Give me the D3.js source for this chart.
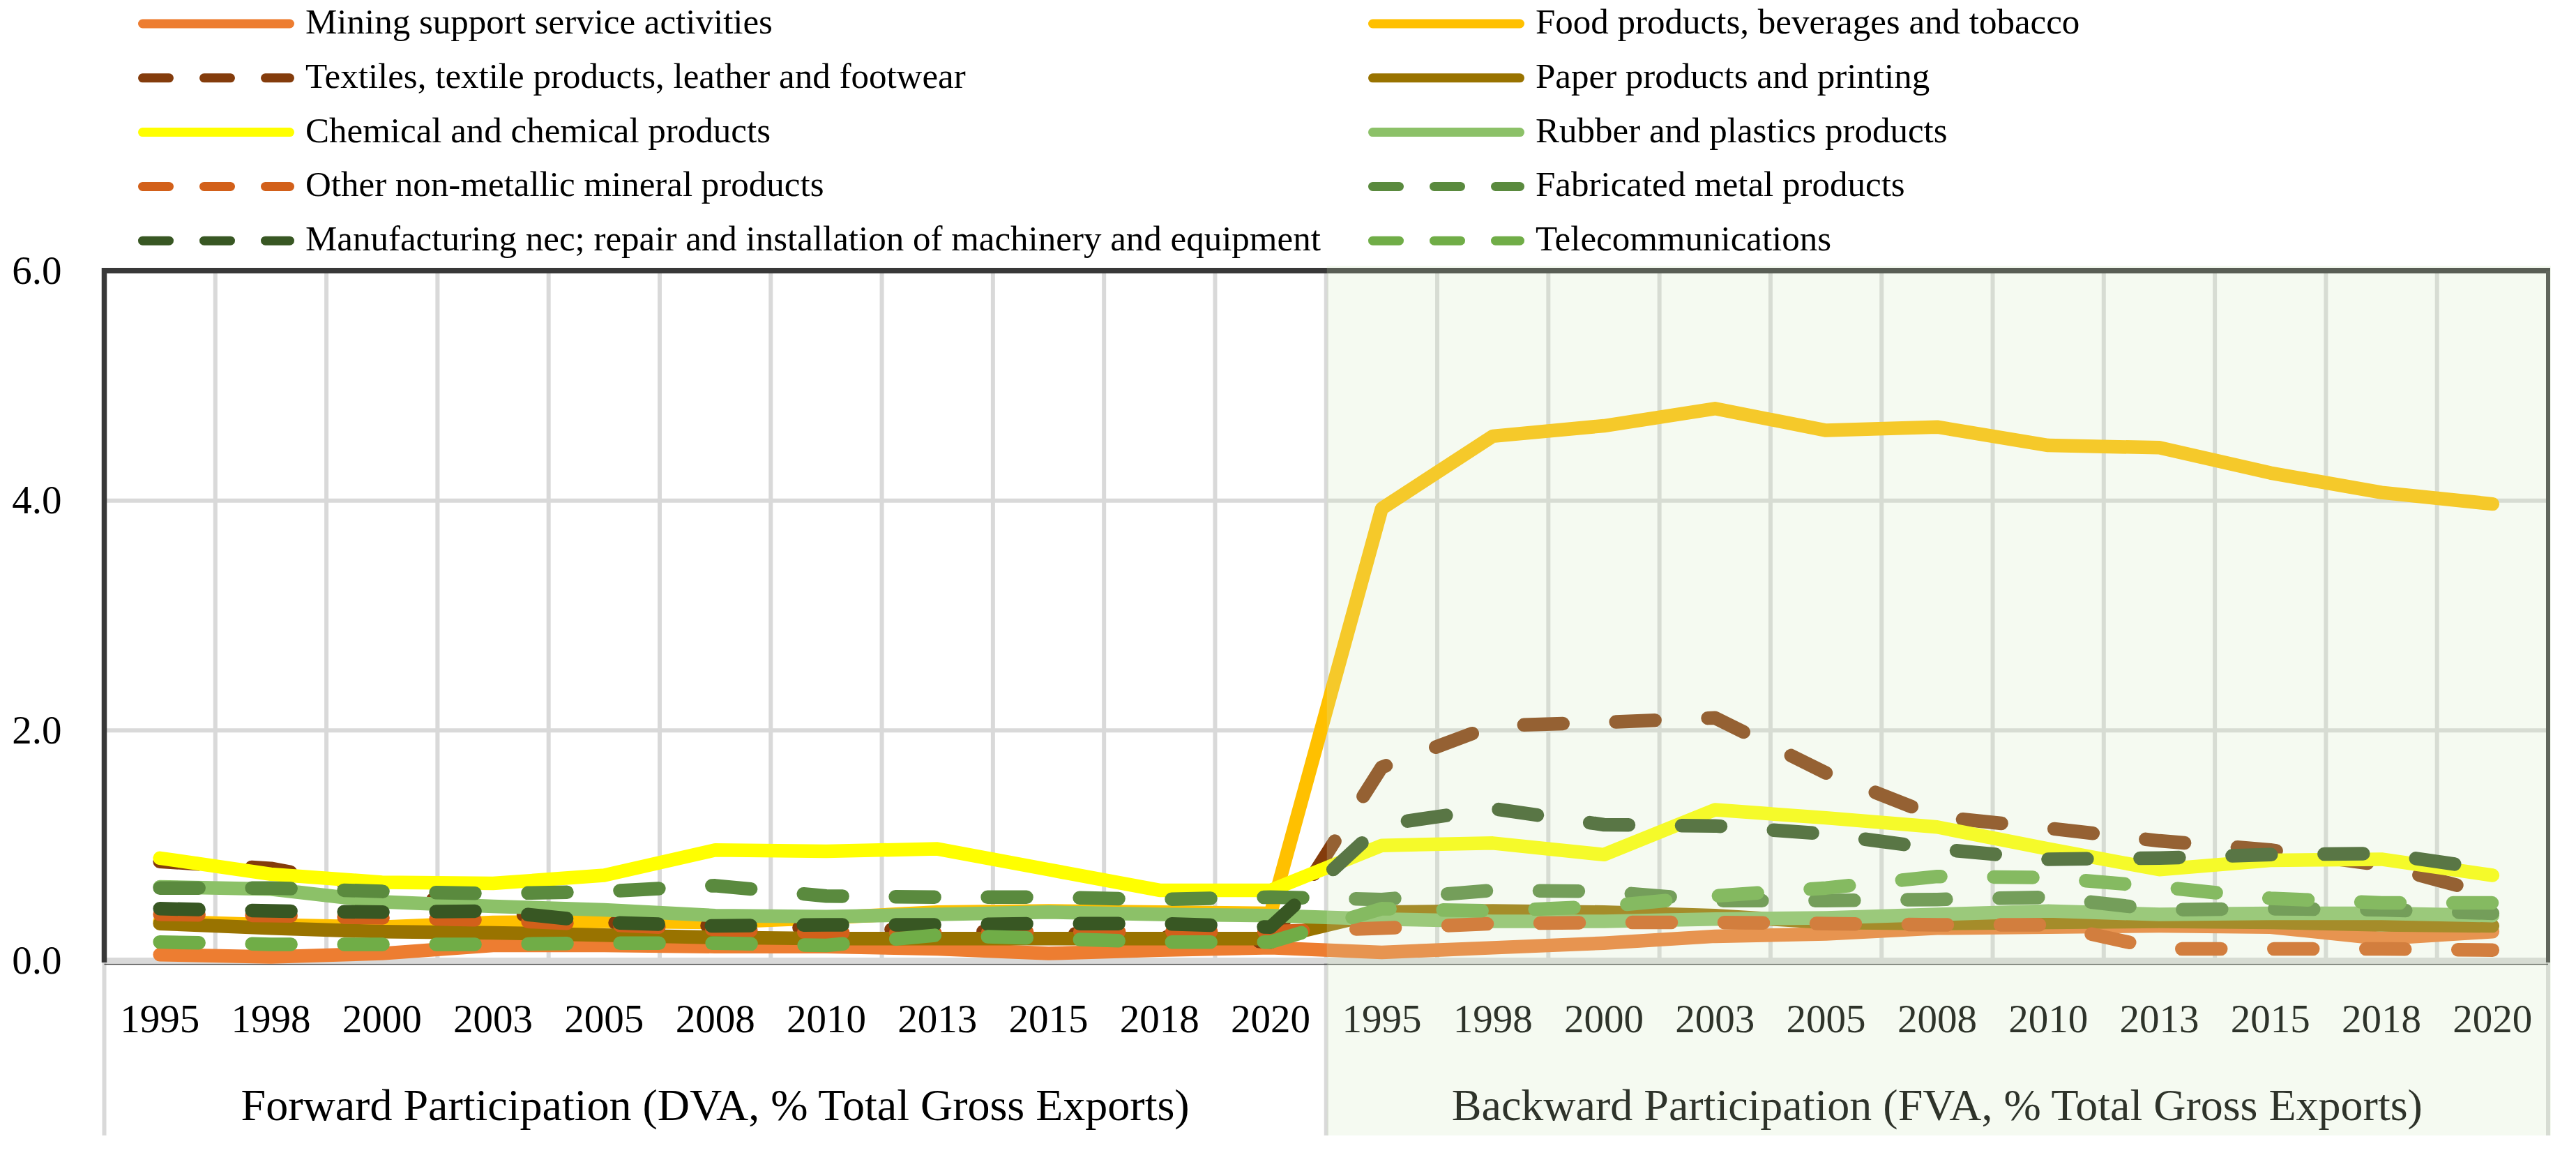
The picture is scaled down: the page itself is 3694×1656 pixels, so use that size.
<!DOCTYPE html>
<html>
<head>
<meta charset="utf-8">
<script src="https://cdn.jsdelivr.net/npm/d3@7"></script>
<style>
    html, body { margin: 0; padding: 0; background: #ffffff; }
    svg { display: block; font-family: "Liberation Serif", "DejaVu Serif", serif; }
</style>
</head>
<body>
<svg id="chart" width="3694" height="1656"></svg>
<script>
// ---- data ----
const years = ["1995", "1998", "2000", "2003", "2005", "2008", "2010", "2013", "2015", "2018", "2020"];
const groups = ["Forward Participation (DVA, % Total Gross Exports)",
                "Backward Participation (FVA, % Total Gross Exports)"];
const yTicks = [0, 2, 4, 6];

const seriesNames = [
    "Mining support service activities",
    "Food products, beverages and tobacco",
    "Textiles, textile products, leather and footwear",
    "Paper products and printing",
    "Chemical and chemical products",
    "Rubber and plastics products",
    "Other non-metallic mineral products",
    "Fabricated metal products",
    "Manufacturing nec; repair and installation of machinery and equipment",
    "Telecommunications"
];

// 11 forward values followed by 11 backward values
const mining        = [0.05, 0.03, 0.06, 0.13, 0.13, 0.12, 0.12, 0.10, 0.06, 0.09, 0.11,
                       0.07, 0.11, 0.15, 0.21, 0.23, 0.28, 0.29, 0.30, 0.29, 0.19, 0.25];
const food          = [0.34, 0.31, 0.29, 0.33, 0.34, 0.33, 0.37, 0.42, 0.43, 0.42, 0.41,
                       3.93, 4.56, 4.65, 4.80, 4.61, 4.64, 4.48, 4.46, 4.24, 4.07, 3.97];
const textiles      = [0.86, 0.80, 0.62, 0.42, 0.33, 0.30, 0.28, 0.26, 0.24, 0.21, 0.16,
                       1.68, 2.04, 2.07, 2.11, 1.63, 1.25, 1.15, 1.04, 0.96, 0.83, 0.57];
const paper         = [0.32, 0.28, 0.25, 0.24, 0.22, 0.20, 0.19, 0.19, 0.19, 0.19, 0.19,
                       0.42, 0.43, 0.42, 0.39, 0.33, 0.32, 0.33, 0.34, 0.33, 0.31, 0.30];
const chemical      = [0.89, 0.75, 0.68, 0.67, 0.74, 0.96, 0.95, 0.97, 0.79, 0.61, 0.61,
                       1.00, 1.02, 0.92, 1.31, 1.24, 1.16, 0.97, 0.79, 0.87, 0.88, 0.74];
const rubber        = [0.64, 0.62, 0.51, 0.47, 0.44, 0.39, 0.38, 0.40, 0.42, 0.40, 0.39,
                       0.36, 0.34, 0.34, 0.36, 0.37, 0.40, 0.43, 0.40, 0.41, 0.41, 0.39];
const otherNonMetal = [0.40, 0.39, 0.37, 0.35, 0.31, 0.27, 0.24, 0.24, 0.25, 0.25, 0.25,
                       0.28, 0.32, 0.33, 0.33, 0.32, 0.31, 0.31, 0.10, 0.10, 0.10, 0.09];
const fabricated    = [0.63, 0.63, 0.60, 0.58, 0.60, 0.65, 0.56, 0.55, 0.55, 0.53, 0.55,
                       0.53, 0.61, 0.60, 0.52, 0.52, 0.53, 0.55, 0.44, 0.45, 0.44, 0.41];
const manufacturing = [0.45, 0.43, 0.42, 0.43, 0.33, 0.30, 0.31, 0.31, 0.32, 0.32, 0.29,
                       1.18, 1.32, 1.18, 1.17, 1.10, 0.97, 0.88, 0.89, 0.92, 0.93, 0.79];
const telecom       = [0.16, 0.14, 0.14, 0.14, 0.15, 0.15, 0.13, 0.22, 0.19, 0.16, 0.16,
                       0.45, 0.43, 0.47, 0.56, 0.63, 0.73, 0.72, 0.64, 0.54, 0.50, 0.50];

const seriesValues = [mining, food, textiles, paper, chemical, rubber,
                      otherNonMetal, fabricated, manufacturing, telecom];

// ---- styles ----
const seriesColors = ["#ED7D31", "#FFC000", "#843C0C", "#997300", "#FFFF00",
                      "#8CC168", "#D2601A", "#5A8A3E", "#385723", "#70AD47"];
const seriesDashed = [false, false, true, false, false, false, true, true, true, true];

const plotLeft = 149.5, plotRight = 3654, plotTop = 388, plotBottom = 1377, labelBottom = 1628;
const gridColor = "#d9d9d9";
const borderColor = "#383838";

const svg = d3.select("#chart");

// categories: group|year
const categories = groups.flatMap(g => years.map(y => g + "|" + y));

const x = d3.scaleBand().domain(categories).range([plotLeft, plotRight]);
const xc = c => x(c) + x.bandwidth() / 2;
const xGroup = d3.scaleBand().domain(groups).range([plotLeft, plotRight]);
const y = d3.scaleLinear().domain([0, 6]).range([plotBottom, plotTop]);
const splitX = xGroup(groups[1]);

// ---- grid ----
const grid = svg.append("g").attr("class", "grid");

grid.selectAll("line.h")
    .data(yTicks.filter(t => t > 0 && t < 6))
    .enter().append("line")
    .attr("x1", plotLeft).attr("x2", plotRight)
    .attr("y1", d => y(d)).attr("y2", d => y(d))
    .style("stroke", gridColor).style("stroke-width", 6);

grid.selectAll("line.v")
    .data(categories.slice(1))
    .enter().append("line")
    .attr("x1", d => x(d)).attr("x2", d => x(d))
    .attr("y1", plotTop).attr("y2", plotBottom)
    .style("stroke", gridColor).style("stroke-width", 6);

// group separators in the label area
grid.selectAll("line.sep")
    .data([plotLeft, splitX, plotRight])
    .enter().append("line")
    .attr("x1", d => d).attr("x2", d => d)
    .attr("y1", plotBottom).attr("y2", labelBottom)
    .style("stroke", gridColor).style("stroke-width", 6);

// zero line
grid.append("line")
    .attr("x1", plotLeft).attr("x2", plotRight)
    .attr("y1", y(0)).attr("y2", y(0))
    .style("stroke", gridColor).style("stroke-width", 8);
grid.append("line")
    .attr("x1", plotLeft).attr("x2", plotRight)
    .attr("y1", y(0) + 5.5).attr("y2", y(0) + 5.5)
    .style("stroke", "#404040").style("stroke-width", 1.5);

// plot border (top, left, right)
grid.append("line")
    .attr("x1", plotLeft - 3.5).attr("x2", plotRight + 3)
    .attr("y1", y(6)).attr("y2", y(6))
    .style("stroke", borderColor).style("stroke-width", 8);
grid.append("line")
    .attr("x1", plotLeft).attr("x2", plotLeft)
    .attr("y1", y(6) - 4).attr("y2", y(0) + 3)
    .style("stroke", borderColor).style("stroke-width", 7.5);
grid.append("line")
    .attr("x1", plotRight).attr("x2", plotRight)
    .attr("y1", y(6)).attr("y2", y(0) + 3)
    .style("stroke", "#404040").style("stroke-width", 6);

// ---- series ----
const line = d3.line()
    .x((v, i) => xc(categories[i]))
    .y(v => y(v));

svg.append("g").attr("class", "series")
    .selectAll("path")
    .data(seriesValues)
    .enter().append("path")
    .attr("d", d => line(d))
    .style("fill", "none")
    .style("stroke", (d, i) => seriesColors[i])
    .style("stroke-width", 19.5)
    .style("stroke-linecap", "round")
    .style("stroke-linejoin", "round")
    .style("stroke-dasharray", (d, i) => seriesDashed[i] ? "56 76" : null);

// ---- axes ----
const yAxis = svg.append("g")
    .attr("transform", "translate(" + plotLeft + ",0)")
    .call(d3.axisLeft(y).tickValues(yTicks).tickFormat(d3.format(".1f")).tickSize(0).tickPadding(61));
yAxis.select(".domain").remove();
yAxis.selectAll("text")
    .style("font-family", "Liberation Serif").style("font-size", "57px").style("fill", "#000");

const xAxis = svg.append("g")
    .attr("transform", "translate(0," + plotBottom + ")")
    .call(d3.axisBottom(x).tickFormat(c => c.split("|")[1]).tickSize(0));
xAxis.select(".domain").remove();
xAxis.selectAll("text")
    .attr("dy", null).attr("y", 1480 - plotBottom)
    .style("font-family", "Liberation Serif").style("font-size", "57px").style("fill", "#000");

const gAxis = svg.append("g")
    .attr("transform", "translate(0," + plotBottom + ")")
    .call(d3.axisBottom(xGroup).tickSize(0));
gAxis.select(".domain").remove();
gAxis.selectAll("text")
    .attr("dy", null).attr("y", 1606 - plotBottom)
    .style("font-family", "Liberation Serif").style("font-size", "64px").style("fill", "#000");

// light green veil over the backward half
svg.append("rect")
    .attr("x", splitX + 1).attr("y", y(6) - 7)
    .attr("width", plotRight + 4 - splitX - 1)
    .attr("height", labelBottom - y(6) + 7)
    .style("fill", "rgb(210,232,191)")
    .style("opacity", 0.22);

// ---- legend ----
const legend = svg.append("g").attr("class", "legend");
const legendCols = [198, 1962];
const legendRow = 77.8;

seriesNames.forEach((name, i) => {
    let col = i % 2;
    let row = Math.floor(i / 2);
    let lx = legendCols[col];
    let ly = 34 + row * legendRow;
    legend.append("line")
        .attr("x1", lx + 6.5).attr("x2", lx + 217.5)
        .attr("y1", ly).attr("y2", ly)
        .style("stroke", seriesColors[i])
        .style("stroke-width", 13)
        .style("stroke-linecap", "round")
        .style("stroke-dasharray", seriesDashed[i] ? "38 50" : null);
    legend.append("text")
        .attr("x", lx + 240).attr("y", ly + 14)
        .style("font-size", "51px").style("fill", "#000")
        .text(name);
});
</script>
</body>
</html>
